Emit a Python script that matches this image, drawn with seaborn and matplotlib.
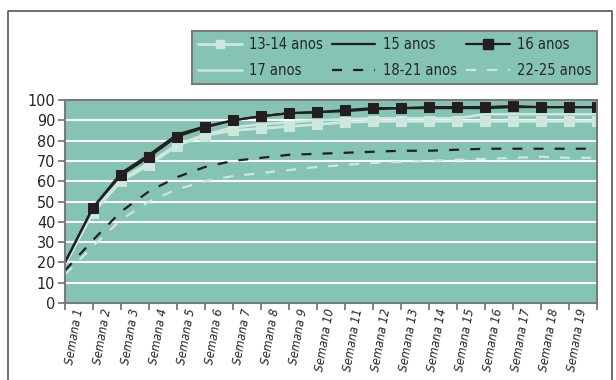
import numpy as np
import pandas as pd
import matplotlib
matplotlib.use("Agg")
import matplotlib.pyplot as plt
from matplotlib.lines import Line2D
from matplotlib import font_manager
import seaborn as sns

# Cumulative percentage per week, by age group (one value per tick, 20 ticks)
weeks = [f"Semana {i}" for i in range(1, 20)]
age_13_14 = [19, 44.5, 60, 68, 77.5, 82.5, 85, 86, 87, 88, 89, 89.5, 89.5, 89.5, 89.5, 89.5, 89.5, 89.5, 89.5, 89.5]
age_15 = [20, 47, 64, 73, 83, 87, 90, 92, 93.5, 94, 94.5, 95.5, 96, 96, 96, 96, 96.5, 96.5, 96.5, 96.5]
age_16 = [20, 47, 63, 72, 82, 86.5, 90, 92, 93.5, 94, 95, 96, 96, 96.5, 96.5, 96.5, 97, 96.5, 96.5, 96.5]
age_17 = [19, 45, 61, 69, 78, 83, 86.5, 88, 89, 90, 90.5, 91, 91, 91, 91, 93, 93, 93, 93, 93]
age_18_21 = [16, 31, 45, 55, 62, 67, 70, 71.5, 73, 73.5, 74, 74.5, 75, 75, 75.5, 76, 76, 76, 76, 76]
age_22_25 = [14, 28, 41, 50, 56, 60, 62.5, 64, 65.5, 67, 68, 69, 69.5, 70, 70.5, 71, 71.5, 72, 71.5, 71.5]
series_names = ["13-14 anos", "15 anos", "16 anos", "17 anos", "18-21 anos", "22-25 anos"]
y_ticks = list(range(0, 101, 10))

TEAL = "#85c4b5"
LIGHT = "#cde7dd"
DARK = "#231f20"
GREY = "#7a7a7a"

sns.set_theme(style="white")
plt.rcParams["font.family"] = ["DejaVu Sans"]
plt.rcParams["font.stretch"] = "condensed"
narrow = font_manager.FontProperties(family="DejaVu Sans", stretch="condensed")

values = [age_13_14, age_15, age_16, age_17, age_18_21, age_22_25]
df = pd.concat(
    [pd.DataFrame({"pos": np.arange(len(v)), "valor": v, "grupo": n}) for n, v in zip(series_names, values)],
    ignore_index=True,
)

styles = {
    "13-14 anos": dict(color=LIGHT, lw=2.0, ls="-", marker="s", ms=7, mec=LIGHT, mfc=LIGHT),
    "15 anos": dict(color=DARK, lw=1.6, ls="-", marker=None),
    "16 anos": dict(color=DARK, lw=1.6, ls="-", marker="s", ms=7.5, mec=DARK, mfc=DARK),
    "17 anos": dict(color=LIGHT, lw=1.8, ls="-", marker=None),
    "18-21 anos": dict(color=DARK, lw=1.6, ls=(0, (4.5, 5)), marker=None),
    "22-25 anos": dict(color=LIGHT, lw=1.6, ls=(0, (4.5, 5)), marker=None),
}

fig = plt.figure(figsize=(6.16, 3.8), dpi=100)
ax = fig.add_axes([65 / 616, 1 - 303 / 380, (597 - 65) / 616, (303 - 100) / 380])
ax.set_facecolor(TEAL)

# white horizontal gridlines
for yv in y_ticks[1:-1]:
    ax.axhline(yv, color="white", lw=1.5, zorder=1)

draw_order = ["22-25 anos", "18-21 anos", "17 anos", "13-14 anos", "15 anos", "16 anos"]
handles = {}
for name in draw_order:
    st = styles[name]
    sub = df[df["grupo"] == name]
    sns.lineplot(data=sub, x="pos", y="valor", ax=ax, color=st["color"], lw=st["lw"],
                 linestyle=st["ls"], legend=False, zorder=3)
    line = ax.lines[-1]
    if st["marker"]:
        line.set_marker(st["marker"])
        line.set_markersize(st["ms"])
        line.set_markeredgecolor(st["mec"])
        line.set_markerfacecolor(st["mfc"])
        line.set_markevery(range(1, len(sub)))
    h = Line2D([0, 1, 2], [0, 0, 0], color=st["color"], lw=st["lw"], linestyle=st["ls"])
    if st["marker"]:
        h.set_marker(st["marker"])
        h.set_markersize(st["ms"] * 0.9)
        h.set_markeredgecolor(st["mec"])
        h.set_markerfacecolor(st["mfc"])
        h.set_markevery([1])
    handles[name] = h

ax.set_xlim(0, len(weeks))
ax.set_ylim(0, 100)
ax.set_xlabel("")
ax.set_ylabel("")

ax.set_yticks(y_ticks)
ax.set_yticklabels([str(t) for t in y_ticks])
for t in ax.get_yticklabels():
    t.set_fontproperties(narrow)
    t.set_fontsize(11.5)
ax.set_xticks(np.arange(len(weeks) + 1))
ax.set_xticklabels([])
ax.set_xticks(np.arange(len(weeks)) + 0.5, minor=True)
ax.set_xticklabels(weeks, minor=True, rotation=80, ha="right", va="center", rotation_mode="anchor")
for t in ax.get_xticklabels(minor=True):
    t.set_fontproperties(narrow)
    t.set_fontsize(9)
    t.set_style("italic")
ax.tick_params(axis="x", which="minor", length=0, pad=4)
ax.tick_params(axis="x", which="major", direction="out", length=5, width=1.3, color=GREY, bottom=True)
ax.tick_params(axis="y", direction="out", length=5, width=1.3, color=GREY, left=True, pad=2)

for side in ["left", "bottom", "top", "right"]:
    ax.spines[side].set_visible(True)
    ax.spines[side].set_color(GREY)
    ax.spines[side].set_linewidth(1.5)
    ax.spines[side].set_zorder(5)

# outer chart frame
x0, x1, ytop = 8 / 616, 612 / 616, 1 - 11 / 380
fig.add_artist(Line2D([x0, x0, x1, x1], [-0.01, ytop, ytop, -0.01], color="#555555", lw=1.2,
                      transform=fig.transFigure))

order = ["13-14 anos", "17 anos", "15 anos", "18-21 anos", "16 anos", "22-25 anos"]
leg_font = font_manager.FontProperties(family="DejaVu Sans", stretch="condensed", size=10.5)
leg = fig.legend([handles[n] for n in order], order, ncol=3, loc="center",
                 bbox_to_anchor=(192 / 616, 1 - 87 / 380, (597 - 192) / 616, (87 - 28) / 380),
                 mode="expand", frameon=True, fancybox=False, prop=leg_font, handlelength=3.0,
                 handletextpad=0.5, columnspacing=1.2, labelspacing=0.75, borderaxespad=0,
                 borderpad=0.4)
leg.get_frame().set_facecolor(TEAL)
leg.get_frame().set_edgecolor(GREY)
leg.get_frame().set_linewidth(1.5)
leg.get_frame().set_alpha(1)

fig.savefig("out.png", dpi=100)
